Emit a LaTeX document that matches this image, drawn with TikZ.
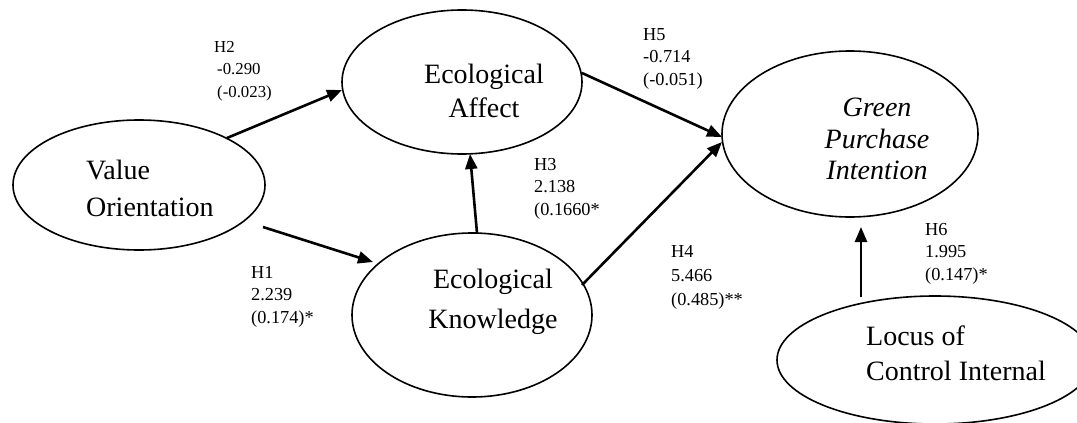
\documentclass[tikz,border=0pt]{standalone}
\usepackage{fontspec}
\setmainfont{Liberation Serif}
\usetikzlibrary{shapes.geometric,arrows.meta}
\begin{document}
\begin{tikzpicture}[x=1pt,y=-1pt,
  construct/.style={draw,ellipse,line width=1.6pt,inner sep=0pt},
  ctext/.style={inner sep=0pt,font=\fontsize{28}{#1}\selectfont},
  lab/.style={inner sep=0pt,anchor=north west,align=left,font=\fontsize{18.3}{22.5}\selectfont},
  path/.style={line width=2.6pt,-{Triangle[length=15pt,width=12pt]}}]
\useasboundingbox (0,0) rectangle (1077,423);
% ellipses
\node[construct,minimum width=252pt,minimum height=130pt] (vo) at (139,185) {};
\node[construct,minimum width=240pt,minimum height=144pt] (ea) at (462,82) {};
\node[construct,minimum width=240pt,minimum height=164pt] (kn) at (472,315) {};
\node[construct,minimum width=256pt,minimum height=166pt] (gpi) at (850,134) {};
\node[construct,minimum width=316pt,minimum height=128pt] (loc) at (935,360) {};
% texts
\node[ctext=37,anchor=north west,align=left] (voT) at (86,159.5) {Value\\Orientation};
\node[ctext=34,anchor=north,align=center] (eaT) at (484,64) {Ecological\\Affect};
\node[ctext=40,anchor=north,align=center] (knT) at (493,269) {Ecological\\Knowledge};
\node[inner sep=0pt,anchor=north,align=center,font=\fontsize{28}{31.5}\selectfont\itshape] (gpiT) at (877,98) {Green\\Purchase\\Intention};
\node[ctext=35,anchor=north west,align=left] (locT) at (866,326) {Locus of\\Control Internal};
% connector end points
\coordinate (h2s) at (227,138); \coordinate (h2e) at (342,90);
\coordinate (h1s) at (263,227); \coordinate (h1e) at (373,262);
\coordinate (h3s) at (477,233); \coordinate (h3e) at (470,154);
\coordinate (h5s) at (582,73);  \coordinate (h5e) at (722,137);
\coordinate (h4s) at (582,285); \coordinate (h4e) at (722,142);
\coordinate (h6s) at (861,297); \coordinate (h6e) at (861,227);
\draw[path] (h2s) -- (h2e);
\draw[path] (h1s) -- (h1e);
\draw[path] (h3s) -- (h3e);
\draw[path] (h5s) -- (h5e);
\draw[path] (h4s) -- (h4e);
\draw[path] (h6s) -- (h6e);
% labels
\node[lab,font=\fontsize{16.8}{22.5}\selectfont] (l2) at (214,41) {H2\\\hspace*{3pt}-0.290\\\hspace*{3pt}(-0.023)};
\node[lab] (l5) at (643,28) {H5\\-0.714\\(-0.051)};
\node[lab] (l1) at (251,266) {H1\\2.239\\(0.174)*};
\node[lab] (l3) at (534,158) {H3\\2.138\\(0.1660*};
\node[lab,font=\fontsize{18.3}{24}\selectfont] (l4) at (671,245) {H4\\5.466\\(0.485)**};
\node[lab] (l6) at (925,223) {H6\\1.995\\(0.147)*};
\end{tikzpicture}
\end{document}
